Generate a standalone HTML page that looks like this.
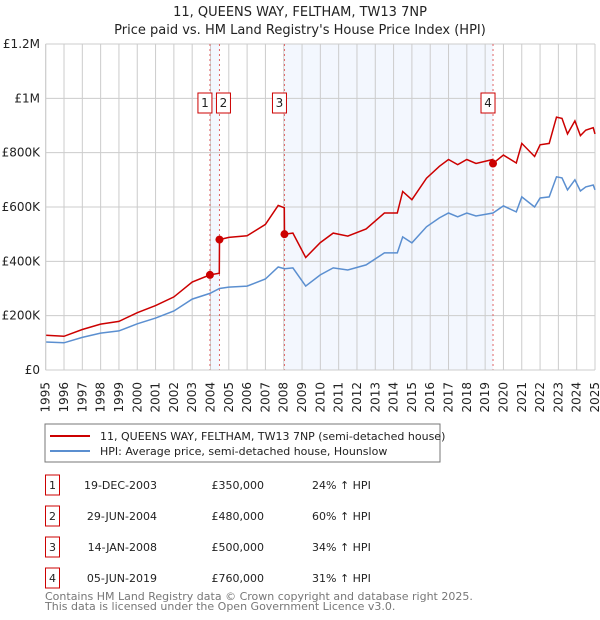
<!DOCTYPE html>
<html><head><meta charset="utf-8"><style>
body{margin:0;background:#fff;}
svg{display:block;font-family:"DejaVu Sans","Liberation Sans",sans-serif;}
</style></head><body>
<svg id="c" width="600" height="620" viewBox="0 0 600 620" xmlns="http://www.w3.org/2000/svg">
<text x="300" y="16" text-anchor="middle" font-size="13" fill="#222">11, QUEENS WAY, FELTHAM, TW13 7NP</text>
<text x="300" y="34" text-anchor="middle" font-size="13" fill="#222">Price paid vs. HM Land Registry's House Price Index (HPI)</text>
<g id="plot"></g>
<rect x="45" y="424" width="395" height="38" fill="#fff" stroke="#777"/>
<line x1="50" y1="436" x2="90" y2="436" stroke="#cc0000" stroke-width="2"/>
<text x="100" y="440" font-size="11" fill="#222">11, QUEENS WAY, FELTHAM, TW13 7NP (semi-detached house)</text>
<line x1="50" y1="451" x2="90" y2="451" stroke="#5b8fd0" stroke-width="2"/>
<text x="100" y="455" font-size="11" fill="#222">HPI: Average price, semi-detached house, Hounslow</text>
<g id="table" font-size="11" fill="#222"></g>
<text x="45" y="600" font-size="11" fill="#777">Contains HM Land Registry data © Crown copyright and database right 2025.</text>
<text x="45" y="610" font-size="11" fill="#777">This data is licensed under the Open Government Licence v3.0.</text>
</svg>
<script>
const hpiYears=[1995,1996,1997,1998,1999,2000,2001,2002,2003,2003.97,2004.49,2005,2006,2007,2007.7,2008.04,2008.5,2009.2,2010,2010.7,2011.5,2012.5,2013.5,2014.2,2014.5,2015,2015.8,2016.5,2017,2017.5,2018,2018.5,2019.43,2020,2020.7,2021,2021.7,2022,2022.5,2022.9,2023.2,2023.5,2023.9,2024.2,2024.5,2024.9,2025];
const hpiValues=[103,100,120,136,144,170,191,217,261,282,300,305,309,335,379,373,376,309,350,376,368,387,431,431,490,468,527,560,578,564,578,567,578,604,582,637,600,633,637,711,707,663,700,659,674,681,663];
const redYears=[1995,1996,1997,1998,1999,2000,2001,2002,2003,2003.97,2004.48,2004.49,2005,2006,2007,2007.7,2008.03,2008.04,2008.5,2009.2,2010,2010.7,2011.5,2012.5,2013.5,2014.2,2014.5,2015,2015.8,2016.5,2017,2017.5,2018,2018.5,2019.42,2019.43,2020,2020.7,2021,2021.7,2022,2022.5,2022.9,2023.2,2023.5,2023.9,2024.2,2024.5,2024.9,2025];
const redValues=[128,124,149,169,179,211,237,269,324,350,356,480,488,494,536,606,597,500,504,414,469,504,493,519,578,578,657,627,706,750,775,756,775,760,775,760,791,762,834,786,829,834,931,926,869,917,863,883,892,869];
const saleLabels=["1","2","3","4"];
const saleYears=[2003.97,2004.49,2008.04,2019.43];
const saleValues=[350,480,500,760];
const saleDates=["19-DEC-2003","29-JUN-2004","14-JAN-2008","05-JUN-2019"];
const salePrices=["£350,000","£480,000","£500,000","£760,000"];
const saleHpi=["24% ↑ HPI","60% ↑ HPI","34% ↑ HPI","31% ↑ HPI"];
const yTicks=[0,200,400,600,800,1000,1200];
const yTickLabels=["£0","£200K","£400K","£600K","£800K","£1M","£1.2M"];
const xTicks=[];for(let y=1995;y<=2025;y++)xTicks.push(y);

const NS="http://www.w3.org/2000/svg";
const L=45.7,R=595,T=44,B=370;
const xs=y=>L+(y-1995)/30*(R-L);
const ys=v=>B-v/1200*(B-T);
const plot=document.getElementById('plot');
function mk(tag,attrs,parent){const e=document.createElementNS(NS,tag);for(const k in attrs)e.setAttribute(k,attrs[k]);(parent||plot).appendChild(e);return e;}

let r=mk('rect',{x:xs(saleYears[0]),y:T,width:xs(saleYears[1])-xs(saleYears[0]),height:B-T,fill:'#eef3fd',opacity:0.7});


r=mk('rect',{x:xs(saleYears[2]),y:T,width:xs(saleYears[3])-xs(saleYears[2]),height:B-T,fill:'#eef3fd',opacity:0.7});



xTicks.forEach(y=>{
 const l=mk('line',{x1:xs(y),x2:xs(y),y1:T,y2:B,stroke:'#ccc','stroke-width':1});
 
 
 const t=mk('text',{x:0,y:0,'font-size':12,fill:'#222','text-anchor':'end',transform:`translate(${xs(y)+4},${B+12}) rotate(-90)`});
 t.textContent=y;
 
 
});
yTicks.forEach((v,i)=>{
 const l=mk('line',{x1:L,x2:R,y1:ys(v),y2:ys(v),stroke:'#ccc','stroke-width':1});
 
 
 const t=mk('text',{x:40,y:ys(v)+4,'font-size':12,fill:'#222','text-anchor':'end'});
 t.textContent=yTickLabels[i];
 
 
});

saleYears.forEach((y,i)=>{
 const l=mk('line',{x1:xs(y),x2:xs(y),y1:T,y2:B,stroke:'#e06666','stroke-width':1,'stroke-dasharray':'2,3'});
 
 
});

const pts=(xa,va)=>xa.map((y,i)=>xs(y).toFixed(1)+','+ys(va[i]).toFixed(1)).join(' ');
let p=mk('polyline',{points:pts(hpiYears,hpiValues),fill:'none',stroke:'#5b8fd0','stroke-width':1.5});


p=mk('polyline',{points:pts(redYears,redValues),fill:'none',stroke:'#cc0000','stroke-width':1.5});



saleYears.forEach((y,i)=>{
 const c=mk('circle',{cx:xs(y),cy:ys(saleValues[i]),r:4,fill:'#cc0000'});
 
 
 const off=i===0?-5:(i===1?4:-5);
 const g=mk('g',{});
 
 
 const bx=xs(y)+off-7;
 mk('rect',{x:bx,y:93,width:14,height:20,fill:'#fff',stroke:'#cc0000','stroke-width':1},g);
 const t=mk('text',{x:bx+7,y:107,'font-size':12,fill:'#222','text-anchor':'middle'},g);
 t.textContent=saleLabels[i];
});
mk('line',{x1:L,x2:L,y1:T,y2:B,stroke:'#ccc'});
mk('line',{x1:L,x2:R,y1:B,y2:B,stroke:'#ccc'});

const tb=document.getElementById('table');
saleLabels.forEach((s,i)=>{
 const cy=485+i*31;
 const g=mk('g',{},tb);
 
 
 mk('rect',{x:45.5,y:cy-10,width:14,height:20,fill:'#fff',stroke:'#cc0000'},g);
 let t=mk('text',{x:52.5,y:cy+4,'text-anchor':'middle'},g);t.textContent=s;
 t=mk('text',{x:157,y:cy+4,'text-anchor':'end'},g);t.textContent=saleDates[i];
 t=mk('text',{x:264,y:cy+4,'text-anchor':'end'},g);t.textContent=salePrices[i];
 t=mk('text',{x:312,y:cy+4},g);t.textContent=saleHpi[i];
});
</script>
</body></html>
